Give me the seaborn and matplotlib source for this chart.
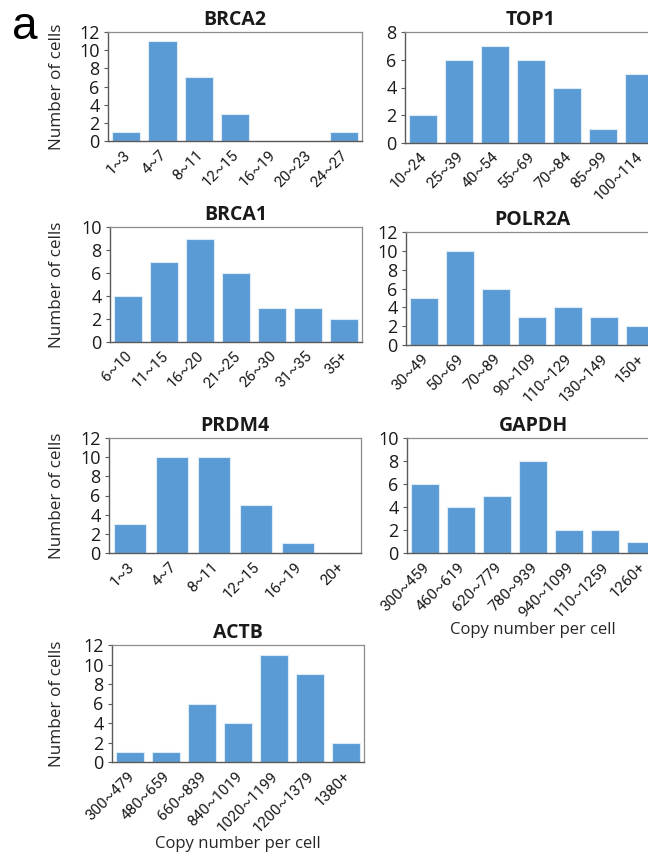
import matplotlib
matplotlib.use("Agg")
import matplotlib.pyplot as plt
import matplotlib.transforms as mtransforms
import seaborn as sns
import pandas as pd

# bin labels and cell counts per gene
brca2_bins = ["1~3", "4~7", "8~11", "12~15", "16~19", "20~23", "24~27"]
brca2_counts = [1, 11, 7, 3, 0, 0, 1]

top1_bins = ["10~24", "25~39", "40~54", "55~69", "70~84", "85~99", "100~114"]
top1_counts = [2, 6, 7, 6, 4, 1, 5]

brca1_bins = ["6~10", "11~15", "16~20", "21~25", "26~30", "31~35", "35+"]
brca1_counts = [4, 7, 9, 6, 3, 3, 2]

polr2a_bins = ["30~49", "50~69", "70~89", "90~109", "110~129", "130~149", "150+"]
polr2a_counts = [5, 10, 6, 3, 4, 3, 2]

prdm4_bins = ["1~3", "4~7", "8~11", "12~15", "16~19", "20+"]
prdm4_counts = [3, 10, 10, 5, 1, 0]

gapdh_bins = ["300~459", "460~619", "620~779", "780~939", "940~1099", "110~1259", "1260+"]
gapdh_counts = [6, 4, 5, 8, 2, 2, 1]

actb_bins = ["300~479", "480~659", "660~839", "840~1019", "1020~1199", "1200~1379", "1380+"]
actb_counts = [1, 1, 6, 4, 11, 9, 2]

sns.set_style("white")
plt.rcParams["font.family"] = ["Open Sans", "DejaVu Sans"]
plt.rcParams["text.color"] = "#1a1a1a"

W, H = 648, 856
fig = plt.figure(figsize=(W / 100, H / 100), dpi=100)

BAR = "#5B9BD5"
# nudge rotated tick labels a little to the left
shift = mtransforms.ScaledTranslation(-3 / 100, 0, fig.dpi_scale_trans)


def panel(l, t, r, b, name, bins, counts, ymax, ylabel=False, xlabel_y=None):
    ax = fig.add_axes([l / W, 1 - b / H, (r - l) / W, (b - t) / H])
    df = pd.DataFrame({"bin": bins, "count": counts})
    sns.barplot(data=df, x="bin", y="count", color=BAR, width=0.78,
                edgecolor="#DDEBF7", linewidth=0.8, saturation=1, ax=ax)
    ax.set_ylim(0, ymax)
    ax.set_yticks(range(0, ymax + 1, 2))
    ax.set_title(name, fontsize=14, fontweight="bold", pad=5)
    ax.tick_params(axis="y", length=3, width=0.8, pad=3, labelsize=13,
                   colors="#595959", labelcolor="#1a1a1a", left=True)
    ax.tick_params(axis="x", length=0, pad=5, labelsize=11, labelcolor="#1a1a1a")
    plt.setp(ax.get_xticklabels(), rotation=45, ha="right", rotation_mode="anchor",
             family=["Roboto", "DejaVu Sans"])
    for lab in ax.get_xticklabels():
        lab.set_transform(lab.get_transform() + shift)
    for side in ["left", "bottom"]:
        ax.spines[side].set_color("#595959")
        ax.spines[side].set_linewidth(1.0)
    for side in ["top", "right"]:
        ax.spines[side].set_color("#8C8C8C")
        ax.spines[side].set_linewidth(0.9)
    if ylabel:
        ax.set_ylabel("Number of cells", fontsize=12.3)
        ax.yaxis.set_label_coords(-(l - 57) / (r - l), 0.5)
        ax.yaxis.label.set_va("center")
    else:
        ax.set_ylabel("")
    if xlabel_y is not None:
        ax.set_xlabel("Copy number per cell", fontsize=12)
        ax.xaxis.set_label_coords(0.5, -(xlabel_y - b) / (b - t))
        ax.xaxis.label.set_va("center")
    else:
        ax.set_xlabel("")
    return ax


panel(108, 32, 362, 141, "BRCA2", brca2_bins, brca2_counts, 12, ylabel=True)
panel(405, 32, 657, 143, "TOP1", top1_bins, top1_counts, 8)
panel(110, 227, 362, 342, "BRCA1", brca1_bins, brca1_counts, 10, ylabel=True)
panel(406, 232, 658, 345, "POLR2A", polr2a_bins, polr2a_counts, 12)
panel(109, 438, 361, 553, "PRDM4", prdm4_bins, prdm4_counts, 12, ylabel=True)
panel(407, 438, 659, 553, "GAPDH", gapdh_bins, gapdh_counts, 10, xlabel_y=630)
panel(112, 645, 364, 762, "ACTB", actb_bins, actb_counts, 12, ylabel=True, xlabel_y=844)

fig.text(12 / W, 1 - 39 / H, "a", fontsize=33, family=["Liberation Sans", "DejaVu Sans"],
         ha="left", va="baseline", color="black")

fig.savefig("out.png", dpi=100)
